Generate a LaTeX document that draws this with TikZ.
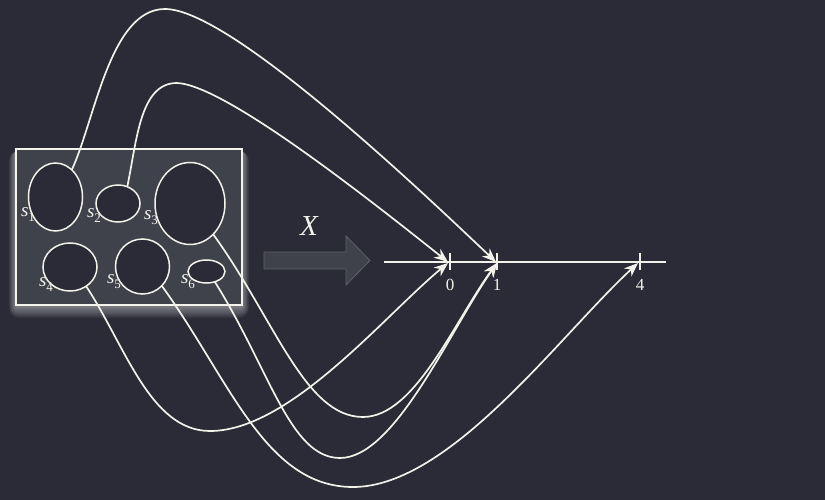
\documentclass[tikz,border=0pt]{standalone}
\usepackage{fontspec}
\setmainfont{Liberation Serif}
\usetikzlibrary{arrows.meta,shapes.geometric}
\definecolor{bg}{HTML}{2A2B36}
\definecolor{boxfill}{HTML}{40424B}
\definecolor{ink}{HTML}{F2F2EA}
\definecolor{arrowedge}{HTML}{5E6068}
\tikzset{
  setshape/.style={ellipse,draw=ink,line width=1.5pt,fill=bg,inner sep=0pt,outer sep=0pt},
  setlabel/.style={text=ink,font=\fontsize{19}{20}\selectfont\itshape,inner sep=0pt},
  mapline/.style={draw=ink,line width=1.7pt,-{Stealth[length=14pt,width=11pt]}},
  ticklabel/.style={text=ink,font=\fontsize{17}{18}\selectfont,inner sep=0pt},
}
\newcommand{\sub}[1]{\raisebox{-5pt}{\fontsize{13}{14}\selectfont\upshape #1}}
\begin{document}
\begin{tikzpicture}[x=1pt,y=-1pt]
\useasboundingbox (0,0) rectangle (825,500);
\fill[bg] (0,0) rectangle (825,500);
% glow
\foreach \i in {1,...,10}{
  \fill[white,opacity=0.05,rounded corners=\i pt] (16-0.7*\i,151) rectangle (242+0.7*\i,305+1.3*\i);
}
\node[draw=ink!85,line width=1.4pt,fill=boxfill,minimum width=226pt,minimum height=156pt,inner sep=0pt] (box) at (129,227) {};
% sets
\node[setshape,minimum width=54pt,minimum height=68pt] (e1) at (55.5,197) {};
\node[setshape,minimum width=44pt,minimum height=37pt] (e2) at (118,203.5) {};
\node[setshape,minimum width=70pt,minimum height=82pt] (e3) at (190,203.5) {};
\node[setshape,minimum width=54pt,minimum height=48pt] (e4) at (70,267) {};
\node[setshape,minimum width=54pt,minimum height=55pt] (e5) at (142.5,266.5) {};
\node[setshape,minimum width=37pt,minimum height=23pt] (e6) at (206.5,271.5) {};
\node[setlabel] (l1) at (28,215) {s\sub{1}};
\node[setlabel] (l2) at (94,216) {s\sub{2}};
\node[setlabel] (l3) at (151,218) {s\sub{3}};
\node[setlabel] (l4) at (46,285) {s\sub{4}};
\node[setlabel] (l5) at (114,282) {s\sub{5}};
\node[setlabel] (l6) at (188,282) {s\sub{6}};
% big arrow
\draw[fill=boxfill,draw=arrowedge,line width=0.8pt] (264,252) -- (346,252) -- (346,236) -- (370,260.5) -- (346,285) -- (346,269) -- (264,269) -- cycle;
\node[text=ink,font=\fontsize{29}{30}\selectfont\itshape,inner sep=0pt] (X) at (309,226) {X};
% number line
\coordinate (la) at (384,262);
\coordinate (lb) at (666,262);
\draw[ink,line width=1.8pt] (la) -- (lb);
\coordinate (t0) at (450,262);
\coordinate (t1) at (497,262);
\coordinate (t4) at (640,262);
\foreach \t in {t0,t1,t4}{
  \draw[ink,line width=1.3pt] ([yshift=-8pt]\t) -- ([yshift=9pt]\t);
}
\node[ticklabel] (n0) at (450,285) {0};
\node[ticklabel] (n1) at (497,285) {1};
\node[ticklabel] (n4) at (640,285) {4};
\coordinate (a0) at (448,262);
\coordinate (a1) at (496,262);
\coordinate (b0) at (448,263);
\coordinate (b1) at (497,263);
\coordinate (b4) at (638,263);
% maps
\draw[mapline] (e1.59) .. controls (95,120) and (110,9) .. (165,9) .. controls (230,9) and (420,190) .. (a1);
\draw[mapline] (e2.61) .. controls (137,140) and (140,83) .. (177,83) .. controls (225,85) and (370,200) .. (a0);
\draw[mapline] (e3.-53) .. controls (275,320) and (305,417) .. (363,417) .. controls (415,417) and (455,320) .. (b1);
\draw[mapline] (e4.-50) .. controls (125,345) and (150,431) .. (210,431) .. controls (290,431) and (385,315) .. (b0);
\draw[mapline] (e5.-45) .. controls (230,380) and (265,487) .. (353,487) .. controls (450,487) and (560,335) .. (b4);
\draw[mapline] (e6.-51) .. controls (270,370) and (290,458) .. (340,458) .. controls (395,458) and (450,330) .. (b1);
\end{tikzpicture}
\end{document}
